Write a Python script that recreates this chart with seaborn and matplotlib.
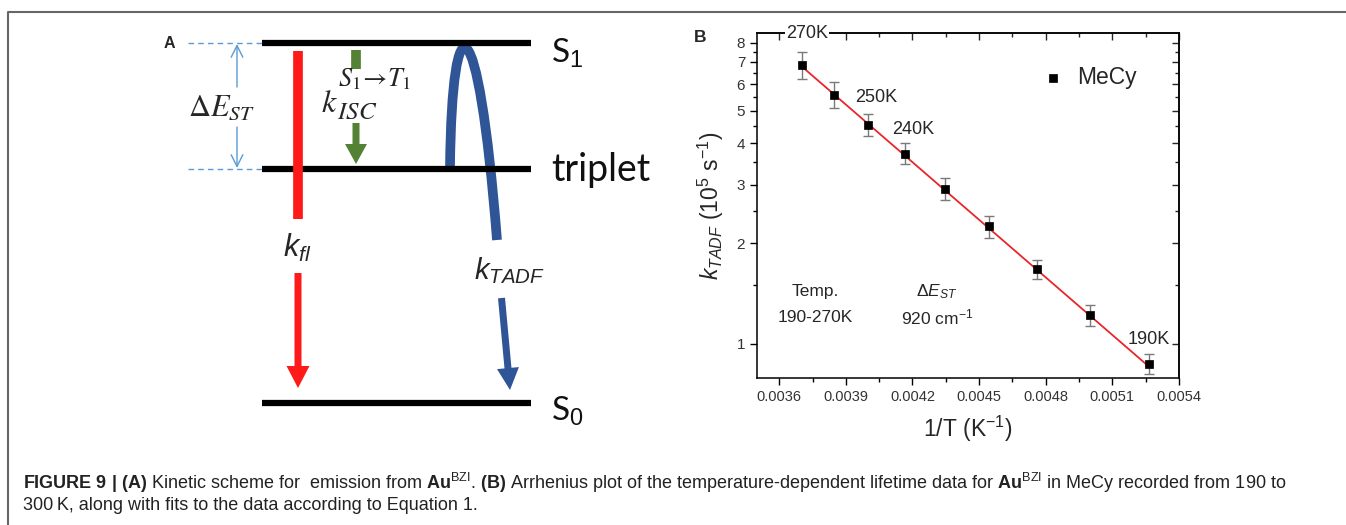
import matplotlib
matplotlib.use("Agg")
import matplotlib.pyplot as plt
import seaborn as sns
from matplotlib.patches import FancyArrow, PathPatch
from matplotlib.path import Path
from matplotlib.ticker import FixedFormatter, FixedLocator, NullFormatter

sns.set_theme(style="ticks")
plt.rcParams["font.family"] = ["Liberation Sans", "DejaVu Sans"]
plt.rcParams["mathtext.fontset"] = "custom"
plt.rcParams["mathtext.rm"] = "Liberation Sans"
plt.rcParams["mathtext.it"] = "Liberation Sans:italic"
plt.rcParams["mathtext.bf"] = "Liberation Sans:bold"

# ---- panel B data (Arrhenius plot) ----
temperature_k = [270, 260, 250, 240, 230, 220, 210, 200, 190]
k_tadf = [6.86, 5.59, 4.54, 3.72, 2.92, 2.25, 1.68, 1.22, 0.871]
k_err = [0.65, 0.50, 0.35, 0.27, 0.22, 0.17, 0.11, 0.085, 0.06]
fit_inv_t = [0.00370, 0.00526]
fit_k = [6.80, 0.86]
x_ticks = [0.0036, 0.0039, 0.0042, 0.0045, 0.0048, 0.0051, 0.0054]
x_minor = [0.00375, 0.00405, 0.00435, 0.00465, 0.00495, 0.00525]
y_ticks = [1, 2, 3, 4, 5, 6, 7, 8]
y_minor = [1.5, 2.5, 3.5, 4.5, 5.5, 6.5, 7.5]

# ---- panel A data (kinetic scheme, drawn in pixel units) ----
level_names = ["S$_1$", "triplet", "S$_0$"]
level_rows = [43, 169, 403]
level_span = [262, 531]

caption_1 = (r"$\mathbf{FIGURE\ 9\ |\ (A)}$ Kinetic scheme for  emission from "
             r"$\mathbf{Au}^{\mathrm{BZI}}$. $\mathbf{(B)}$ Arrhenius plot of the "
             r"temperature-dependent lifetime data for $\mathbf{Au}^{\mathrm{BZI}}$ "
             r"in MeCy recorded from 190 to")
caption_2 = "300\u2009K, along with fits to the data according to Equation 1."

fig = plt.figure(figsize=(13.46, 5.25), dpi=100)

canvas = fig.add_axes([0, 0, 1, 1])
canvas.set_xlim(0, 1346)
canvas.set_ylim(525, 0)
canvas.axis("off")

# page frame
canvas.plot([7.5, 7.5, 1346], [525, 11.5, 11.5], color="#666666", lw=1.5)

# energy levels
label_dy = [10, 1, 8]
label_size = [24, 27, 24]
for name, row, dy, size in zip(level_names, level_rows, label_dy, label_size):
    canvas.plot(level_span, [row, row], color="black", lw=4.5, solid_capstyle="butt")
    canvas.text(level_span[1] + 20, row + dy, name, fontsize=size, family=["Lato", "DejaVu Sans"],
                va="center", ha="left", color="#111111")

# delta E_ST marker
light_blue = "#5b9bd5"
for row in level_rows[:2]:
    canvas.plot([188, level_span[0]], [row, row], color=light_blue, lw=1, ls=(0, (4, 3)))
canvas.annotate("", xy=(237, level_rows[0] + 1), xytext=(237, 87),
                arrowprops=dict(arrowstyle="->,head_width=0.35,head_length=0.7", color=light_blue, lw=1,
                                shrinkA=0, shrinkB=0))
canvas.annotate("", xy=(237, level_rows[1] - 1), xytext=(237, 127),
                arrowprops=dict(arrowstyle="->,head_width=0.35,head_length=0.7", color=light_blue, lw=1,
                                shrinkA=0, shrinkB=0))
canvas.text(221, 108, r"$\Delta E_{ST}$", fontsize=22, math_fontfamily="stix", ha="center", va="center")

# fluorescence arrow (red)
red = "#ff1a1a"
canvas.plot([298, 298], [51, 219], color=red, lw=7, solid_capstyle="butt")
canvas.add_patch(FancyArrow(298, 273, 0, 115, width=7, head_width=23, head_length=22,
                            length_includes_head=True, color=red, lw=0))
canvas.text(297, 248, r"$k_{fl}$", fontsize=22, ha="center", va="center")

# ISC arrow (green)
green = "#548235"
canvas.plot([356, 356], [50, 69], color=green, lw=7, solid_capstyle="butt")
canvas.add_patch(FancyArrow(356, 123, 0, 41, width=7, head_width=22, head_length=20,
                            length_includes_head=True, color=green, lw=0))
canvas.text(321, 112, r"$k$", fontsize=23, math_fontfamily="stix", ha="left", va="baseline")
canvas.text(337, 119, r"$ISC$", fontsize=18, math_fontfamily="stix", ha="left", va="baseline")
canvas.text(338, 86, r"$S_1\!\rightarrow\!T_1$", fontsize=19, math_fontfamily="stix",
            ha="left", va="baseline")

# TADF curve and arrow (blue)
blue = "#2f5597"
curve = Path([(450, 167), (452, -5), (478, 0), (497, 240)],
             [Path.MOVETO, Path.CURVE4, Path.CURVE4, Path.CURVE4])
canvas.add_patch(PathPatch(curve, facecolor="none", edgecolor=blue, lw=7, capstyle="butt"))
canvas.add_patch(FancyArrow(501.5, 298, 8.5, 92, width=7, head_width=22, head_length=22,
                            length_includes_head=True, color=blue, lw=0))
canvas.text(509, 271, r"$k_{TADF}$", fontsize=21, ha="center", va="center")

fig.text(169 / 1346, 1 - 43 / 525, "A", fontsize=11.5, fontweight="bold", ha="center", va="center")
fig.text(700 / 1346, 1 - 38 / 525, "B", fontsize=12.5, fontweight="bold", ha="center", va="center")

# ---- panel B ----
inv_t = [1.0 / t for t in temperature_k]
ax = fig.add_axes([757 / 1346, 1 - 378 / 525, 422 / 1346, 345 / 525])
ax.set_yscale("log")
ax.errorbar(inv_t, k_tadf, yerr=k_err, fmt="none", ecolor="#7a7a7a", elinewidth=1,
            capsize=3.5, capthick=1, zorder=2)
sns.lineplot(x=fit_inv_t, y=fit_k, color="#e8262a", lw=1.3, ax=ax, zorder=3)
sns.scatterplot(x=inv_t, y=k_tadf, marker="s", s=32, color="black", edgecolor="black",
                linewidth=0.5, ax=ax, zorder=4, label="MeCy")
ax.set_xlim(0.0035, 0.0054)
ax.set_ylim(0.79, 8.55)

ax.xaxis.set_major_locator(FixedLocator(x_ticks))
ax.xaxis.set_major_formatter(FixedFormatter([f"{v:.4f}" for v in x_ticks]))
ax.xaxis.set_minor_locator(FixedLocator(x_minor))
ax.yaxis.set_major_locator(FixedLocator(y_ticks))
ax.yaxis.set_major_formatter(FixedFormatter([str(v) for v in y_ticks]))
ax.yaxis.set_minor_locator(FixedLocator(y_minor))
ax.yaxis.set_minor_formatter(NullFormatter())
ax.tick_params(which="both", direction="out", width=1, colors="black", labelcolor="#333333")
ax.tick_params(axis="x", labelsize=10.5)
ax.tick_params(axis="y", labelsize=11)
ax.tick_params(which="major", length=5)
ax.tick_params(which="minor", length=3)
for spine in ax.spines.values():
    spine.set_linewidth(1.1)
    spine.set_color("black")

top = ax.secondary_xaxis("top")
top.xaxis.set_major_locator(FixedLocator(x_ticks))
top.xaxis.set_minor_locator(FixedLocator(x_minor))
top.tick_params(which="both", direction="in", labeltop=False, width=1)
top.tick_params(which="major", length=5)
top.tick_params(which="minor", length=3)
right = ax.secondary_yaxis("right")
right.yaxis.set_major_locator(FixedLocator(y_ticks))
right.yaxis.set_minor_locator(FixedLocator(y_minor))
right.yaxis.set_minor_formatter(NullFormatter())
right.tick_params(which="both", direction="in", labelright=False, width=1)
right.tick_params(which="major", length=5)
right.tick_params(which="minor", length=3)

ax.set_xlabel("1/T (K$^{-1}$)", fontsize=16.5, labelpad=7)
ax.set_ylabel("$k_{TADF}$ (10$^{5}$ s$^{-1}$)", fontsize=16.5, labelpad=8)

ax.legend(loc="center left", bbox_to_anchor=(0.676, 0.872), frameon=False, fontsize=16.5,
          handlelength=0.9, handletextpad=0.6, borderaxespad=0, borderpad=0)

ax.text(0.004035, 5.46, "250K", fontsize=13, ha="center", va="center")
ax.text(0.004201, 4.38, "240K", fontsize=13, ha="center", va="center")
ax.text(0.005359, 1.03, "190K", fontsize=13, ha="right", va="center")
fig.text(0.003725, 1.0, "270K", fontsize=13, ha="center", va="center",
         transform=ax.get_xaxis_transform(), bbox=dict(fc="white", ec="none", pad=1))
ax.text(0.137, 0.25, "Temp.", fontsize=12.5, ha="center", va="center", transform=ax.transAxes)
ax.text(0.137, 0.175, "190-270K", fontsize=12.5, ha="center", va="center", transform=ax.transAxes)
ax.text(0.4265, 0.25, r"$\mathit{\Delta}E_{ST}$", fontsize=12.5, ha="center", va="center",
        transform=ax.transAxes)
ax.text(0.4265, 0.175, "920 cm$^{-1}$", fontsize=12.5, ha="center", va="center", transform=ax.transAxes)

# ---- caption ----
fig.text(23 / 1346, 1 - 489 / 525, caption_1, fontsize=13, color="#222222", va="baseline")
fig.text(23 / 1346, 1 - 510 / 525, caption_2, fontsize=13, color="#222222", va="baseline")

fig.savefig("out.png", dpi=100)
